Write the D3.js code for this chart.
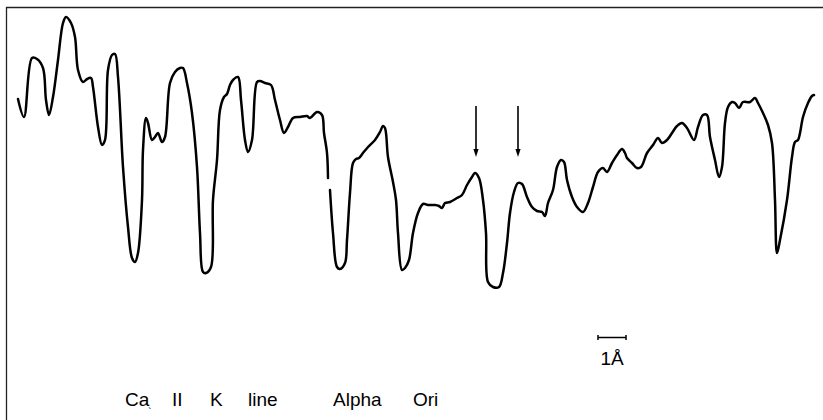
<!DOCTYPE html>
<html><head><meta charset="utf-8">
<script src="https://cdn.jsdelivr.net/npm/d3@7"></script>
<style>html,body{margin:0;padding:0;background:#fff;}svg{display:block;}</style>
</head><body>
<svg id="c" width="823" height="420"></svg>
<script>
// trace position (28 units = 1 Å) and relative flux; null marks the pen gap
const position = [18,24,32,37,43,46,49,53,58,63,66,71,75,78,83,87,91,93,98,102,105,108,112,115,118,123,128,132,135,138,142,143,146,148,152,155,158,162,165,170,175,180,183,187,192,197,200,203,206,211,213,217,220,224,227,230,233,238,241,245,248,252,257,260,265,271,275,280,284,288,293,300,307,310,317,322,324,327,328,329,330,333,337,340,345,347,350,353,356,359,363,368,375,380,383,385,388,393,396,398,402,405,409,413,418,423,428,435,439,442,445,450,457,462,467,472,475,479,483,486,488,493,499,503,507,510,514,518,522,527,532,537,542,545,548,553,557,561,564,567,572,577,583,588,593,598,603,607,612,617,622,625,627,632,637,641,647,653,658,662,667,672,677,682,687,694,698,703,707,710,715,719,722,725,728,732,735,739,743,750,755,758,763,768,772,775,777,780,787,792,795,798,800,803,808,812,814];
const flux = [201,183,242,241,232,200,185,203,240,277,283,277,263,230,218,221,222,213,173,155,160,230,245,246,223,133,73,42,38,47,100,150,182,177,160,163,167,158,163,217,228,232,232,217,187,133,67,28,27,33,100,140,190,203,206,215,220,223,200,160,148,160,218,219,217,215,200,180,167,173,182,183,184,182,188,185,167,147,122,null,110,67,33,31,37,60,107,137,141,142,147,153,160,168,174,172,143,118,100,67,30,32,40,67,87,96,95,95,94,92,97,98,102,105,115,123,127,122,100,67,18,13,13,27,57,87,108,117,116,103,93,89,88,84,97,110,133,140,138,120,103,93,88,97,113,128,132,128,137,145,151,147,142,137,132,133,147,155,162,157,160,167,174,177,172,160,173,185,185,163,140,123,133,177,193,198,197,192,198,198,202,197,187,175,157,100,47,60,100,143,158,160,167,183,197,204,205];
const arrowPos = [476, 518];
const arrowFlux = [194, 143]; // top, tip
const scaleBarAngstrom = 1, unitsPerAngstrom = 28, scaleBarStart = 598;
const labelWords = ["Ca","II","K","line","Alpha","Ori"];
const labelX = [125,172,210,248,333,413];

const svg = d3.select("#c");
const x = d3.scaleLinear().domain([0,823]).range([0,823]);
const y = d3.scaleLinear().domain([0,300]).range([300,0]);

// frame: top and left edges
svg.append("line").attr("x1",6).attr("x2",823).attr("y1",7.5).attr("y2",7.5).attr("stroke","#222").attr("stroke-width",1.3);
svg.append("line").attr("x1",6.5).attr("x2",6.5).attr("y1",7).attr("y2",420).attr("stroke","#222").attr("stroke-width",1.3);

const pts = position.map((p,i)=>({p, f: flux[i]}));
const line = d3.line().defined(d=>d.f!==null).x(d=>x(d.p)).y(d=>y(d.f)).curve(d3.curveCatmullRom.alpha(0.5));
svg.append("path").attr("d",line(pts)).attr("fill","none").attr("stroke","#000").attr("stroke-width",2.5).attr("stroke-linejoin","round").attr("stroke-linecap","round");

// arrows
arrowPos.forEach(a=>{
  const x0=x(a), yt=y(arrowFlux[0]), yb=y(arrowFlux[1]);
  svg.append("line").attr("x1",x0).attr("x2",x0).attr("y1",yt).attr("y2",yb-6).attr("stroke","#000").attr("stroke-width",1.6);
  svg.append("path").attr("d",`M${x0-2.6},${yb-8} L${x0+2.6},${yb-8} L${x0},${yb} Z`).attr("fill","#000");
});

// scale bar
const sx0 = x(scaleBarStart), sx1 = x(scaleBarStart + scaleBarAngstrom*unitsPerAngstrom), sy = 337.5;
svg.append("line").attr("x1",sx0).attr("x2",sx1).attr("y1",sy).attr("y2",sy).attr("stroke","#000").attr("stroke-width",1.5);
[sx0,sx1].forEach(v=>svg.append("line").attr("x1",v).attr("x2",v).attr("y1",sy-2.5).attr("y2",sy+2.5).attr("stroke","#000").attr("stroke-width",1.5));
svg.append("text").attr("x",(sx0+sx1)/2).attr("y",365).attr("text-anchor","middle")
  .attr("font-family","Liberation Sans, Arial, sans-serif").attr("font-size",19).attr("fill","#000").text(scaleBarAngstrom+"Å");

// caption
labelWords.forEach((w,i)=>{
  svg.append("text").attr("x",labelX[i]).attr("y",406).attr("font-family","Liberation Sans, Arial, sans-serif")
    .attr("font-size",19).attr("fill","#000").text(w);
});
svg.append("text").attr("x",148).attr("y",416).attr("font-family","Liberation Sans, Arial, sans-serif").attr("font-size",11).attr("fill","#000").text("`");
</script>
</body></html>
